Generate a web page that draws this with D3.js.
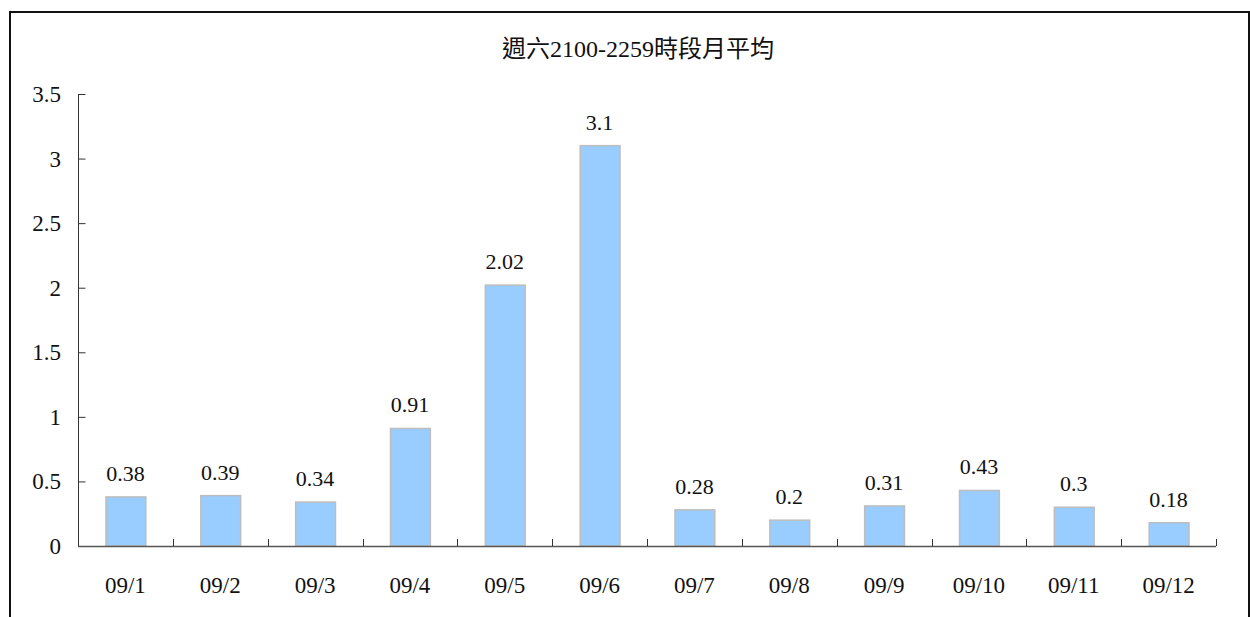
<!DOCTYPE html>
<html><head><meta charset="utf-8">
<script src="https://cdn.jsdelivr.net/npm/d3@7/dist/d3.min.js"></script>
<style>
body{margin:0;background:#fff;}
text{font-family:"Liberation Serif","Noto Sans CJK TC",serif;font-weight:normal;fill:#111;}
</style></head><body>
<svg id="c" width="1250" height="617"></svg>
<script>
const title = "週六2100-2259時段月平均";
const categories = ["09/1","09/2","09/3","09/4","09/5","09/6","09/7","09/8","09/9","09/10","09/11","09/12"];
const values = [0.38,0.39,0.34,0.91,2.02,3.1,0.28,0.2,0.31,0.43,0.3,0.18];
const yTicks = [0,0.5,1,1.5,2,2.5,3,3.5];

const svg = d3.select("#c");
// frame
svg.append("path").attr("d","M10,640 L10,12 L1249,12 L1249,640")
  .attr("fill","none").attr("stroke","#111").attr("stroke-width",2);

const x = d3.scaleBand().domain(categories).range([78,1216]).paddingInner(0.58).paddingOuter(0.29);
const xb = d3.scaleBand().domain(categories).range([78,1216]);
const y = d3.scaleLinear().domain([0,3.5]).range([546,94]);

svg.append("text").attr("x",638).attr("y",57).attr("text-anchor","middle")
  .style("font-size","24px").text(title);

// bars
svg.selectAll("rect.bar").data(values).join("rect")
  .attr("x",(d,i)=>x(categories[i])+0.5)
  .attr("y",d=>y(d))
  .attr("width",x.bandwidth())
  .attr("height",d=>546-y(d))
  .attr("fill","#99CCFF").attr("stroke","#BDBDBD").attr("stroke-width",1.5);

// value labels
svg.selectAll("text.val").data(values).join("text").attr("class","val")
  .attr("x",(d,i)=>xb(categories[i])+xb.bandwidth()/2)
  .attr("y",d=>y(d)-16).attr("text-anchor","middle")
  .style("font-size","22px").text(d=>String(d));

// y axis
const yAxis = d3.axisRight(y).tickValues(yTicks).tickSize(7).tickFormat("");
const gy = svg.append("g").attr("transform","translate(78.5,0)").call(yAxis);
gy.select(".domain").attr("d","M0,94V546").attr("stroke","#333");
gy.selectAll(".tick line").attr("stroke","#333");
svg.selectAll("text.yl").data(yTicks).join("text").attr("class","yl")
  .attr("x",61).attr("y",d=>y(d)+8).attr("text-anchor","end")
  .style("font-size","23px").text(d=>String(d));

// x axis
const bounds = d3.range(1,13).map(i=>78+i*xb.step());
svg.append("line").attr("x1",78).attr("x2",1216).attr("y1",546.5).attr("y2",546.5)
  .attr("stroke","#555").attr("stroke-width",1.5);
svg.selectAll("line.xt").data(bounds).join("line")
  .attr("x1",d=>Math.round(d)+0.5).attr("x2",d=>Math.round(d)+0.5)
  .attr("y1",546).attr("y2",539).attr("stroke","#333");
svg.selectAll("text.xl").data(categories).join("text").attr("class","xl")
  .attr("x",d=>xb(d)+xb.bandwidth()/2).attr("y",593).attr("text-anchor","middle")
  .style("font-size","23px").text(d=>d);
</script></body></html>
